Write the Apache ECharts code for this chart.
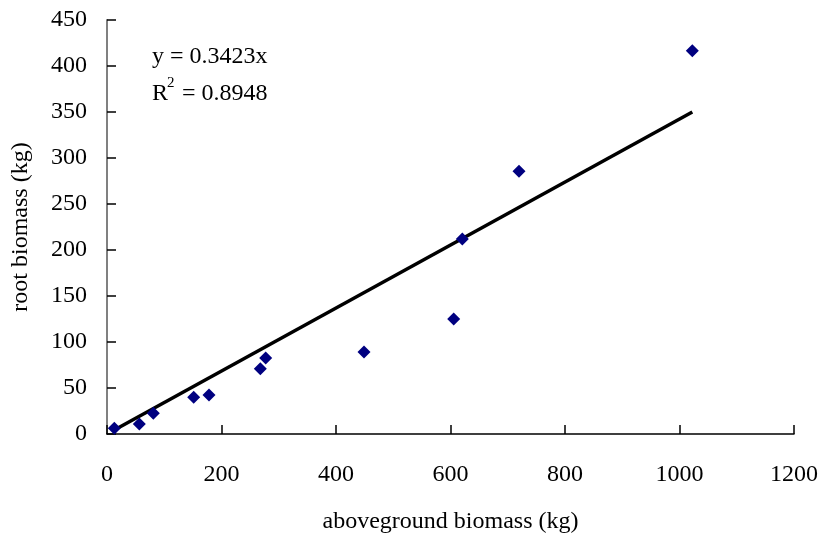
<!DOCTYPE html>
<html>
<head>
<meta charset="utf-8">
<script src="https://cdn.jsdelivr.net/npm/echarts@6/dist/echarts.min.js"></script>
<style>
  html, body { margin: 0; padding: 0; background: #fff; }
  #main { width: 820px; height: 538px; }
</style>
</head>
<body>
<div id="main"></div>
<script>
// aboveground vs root biomass (kg)
const aboveground = [12.8, 56.4, 80.9, 151.4, 178.2, 267.8, 277.2, 448.9, 605.6, 620.6, 719.7, 1022.4];
const rootBiomass = [6.2, 10.9, 22.5, 39.9, 42.4, 71.0, 82.6, 89.1, 125, 212, 285.5, 416.6];
const slope = 0.3423;
const r2 = '0.8948';
const xTicks = [0, 200, 400, 600, 800, 1000, 1200];
const yTicks = [0, 50, 100, 150, 200, 250, 300, 350, 400, 450];

const FONT = '"Liberation Serif", "DejaVu Serif", serif';
const FS = 24;

let points = aboveground.map((x, i) => [x, rootBiomass[i]]);
let xMin = Math.min(...aboveground), xMax = Math.max(...aboveground);
let trend = [[xMin, slope * xMin], [xMax, slope * xMax]];

let chart = echarts.init(document.getElementById('main'), null, { renderer: 'canvas' });
let option = {
  animation: false,
  backgroundColor: '#fff',
  grid: { left: 107, right: 26, top: 20, bottom: 104, containLabel: false, outerBoundsMode: 'none' },
  graphic: [
    { type: 'text', left: 152, top: 45, style: { text: 'y = ' + slope + 'x', font: FS + 'px ' + FONT, fill: '#000' } },
    { type: 'text', left: 152, top: 82, style: { text: 'R', font: FS + 'px ' + FONT, fill: '#000' } },
    { type: 'text', left: 167, top: 76, style: { text: '2', font: '15px ' + FONT, fill: '#000' } },
    { type: 'text', left: 176, top: 82, style: { text: ' = ' + r2, font: FS + 'px ' + FONT, fill: '#000' } }
  ],
  xAxis: {
    type: 'value',
    min: 0, max: 1200, interval: 200,
    name: 'aboveground biomass (kg)',
    nameLocation: 'middle',
    nameGap: 76,
    nameTextStyle: { fontFamily: FONT, fontSize: FS, color: '#000' },
    axisLine: { lineStyle: { color: '#000', width: 1.5 } },
    axisTick: { inside: true, length: 9, lineStyle: { color: '#000', width: 1.5 } },
    axisLabel: { fontFamily: FONT, fontSize: FS, color: '#000', margin: 29,
      formatter: v => xTicks.includes(v) ? String(v) : '' },
    splitLine: { show: false }
  },
  yAxis: {
    type: 'value',
    min: 0, max: 450, interval: 50,
    name: 'root biomass (kg)',
    nameLocation: 'middle',
    nameGap: 74,
    nameTextStyle: { fontFamily: FONT, fontSize: FS, color: '#000' },
    axisLine: { show: true, lineStyle: { color: '#808080', width: 2 } },
    axisTick: { show: true, inside: true, length: 9, lineStyle: { color: '#000', width: 1.5 } },
    axisLabel: { fontFamily: FONT, fontSize: FS, color: '#000', margin: 20,
      formatter: v => yTicks.includes(v) ? String(v) : '' },
    splitLine: { show: false }
  },
  series: [{
    type: 'line',
    data: trend,
    symbol: 'none',
    lineStyle: { color: '#000', width: 3.5 },
    z: 2
  }, {
    type: 'scatter',
    data: points,
    symbol: 'diamond',
    symbolSize: 13,
    itemStyle: { color: '#000080', opacity: 1 },
    z: 3
  }]
};
chart.setOption(option);
</script>
</body>
</html>
